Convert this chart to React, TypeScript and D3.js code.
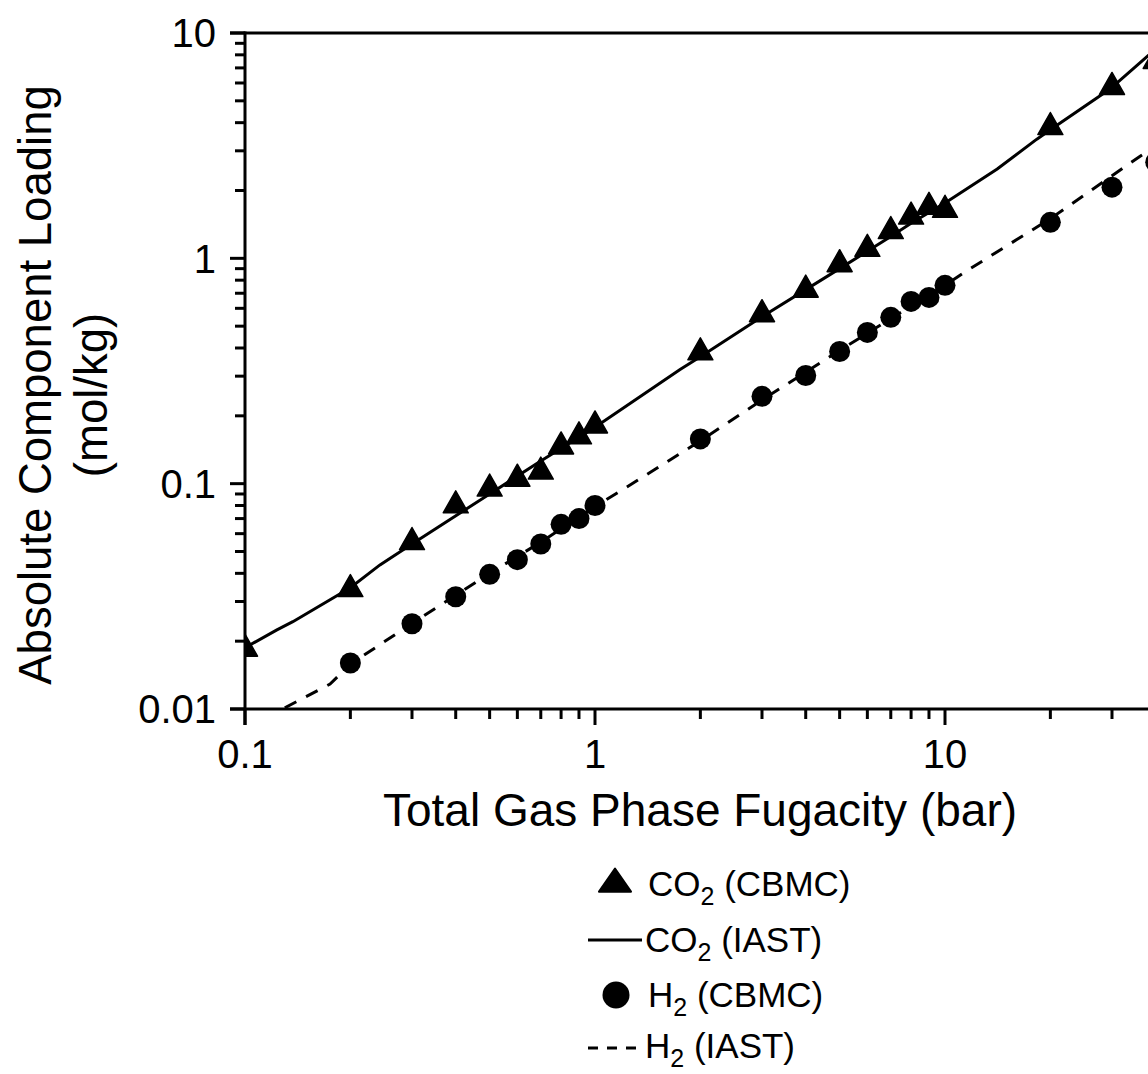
import React from "react";
import * as d3 from "d3";

// ---- Data ----
const cbmcPressureCO2 = [0.1, 0.2, 0.3, 0.4, 0.5, 0.6, 0.7, 0.8, 0.9, 1, 2, 3, 4, 5, 6, 7, 8, 9, 10, 20, 30, 40];
const co2CBMC = [0.0185, 0.034, 0.055, 0.08, 0.095, 0.105, 0.113, 0.146, 0.162, 0.181, 0.382, 0.564, 0.725, 0.94, 1.1, 1.32, 1.53, 1.69, 1.64, 3.82, 5.75, 7.5];

const cbmcPressureH2 = [0.2, 0.3, 0.4, 0.5, 0.6, 0.7, 0.8, 0.9, 1, 2, 3, 4, 5, 6, 7, 8, 9, 10, 20, 30, 40];
const h2CBMC = [0.016, 0.0239, 0.0315, 0.0396, 0.046, 0.054, 0.066, 0.07, 0.08, 0.158, 0.244, 0.302, 0.386, 0.469, 0.547, 0.644, 0.671, 0.759, 1.445, 2.07, 2.67];

const iastPressureCO2 = [0.1, 0.123, 0.137, 0.2, 0.243, 0.3, 0.5, 0.7, 1, 1.75, 2, 3, 5, 7, 8, 10, 14.1, 18.3, 20, 29.6, 40];
const co2IAST = [0.0187, 0.0224, 0.0244, 0.0345, 0.0436, 0.054, 0.09, 0.126, 0.178, 0.321, 0.366, 0.55, 0.9, 1.25, 1.43, 1.76, 2.49, 3.38, 3.72, 5.64, 8.5];

const iastPressureH2 = [0.1, 0.128, 0.175, 0.2, 0.3, 0.5, 0.7, 1, 1.436, 2, 3, 5, 7, 10, 11.4, 20, 24.8, 36.1, 40];
const h2IAST = [0.0077, 0.01, 0.0129, 0.0158, 0.024, 0.04, 0.055, 0.079, 0.112, 0.155, 0.235, 0.39, 0.54, 0.76, 0.87, 1.5, 1.89, 2.84, 3.15];

const xTickValues = [0.1, 1, 10];
const xTickLabels = ["0.1", "1", "10"];
const yTickValues = [0.01, 0.1, 1, 10];
const yTickLabels = ["0.01", "0.1", "1", "10"];

const xTitle = "Total Gas Phase Fugacity (bar)";
const yTitle1 = "Absolute Component Loading";
const yTitle2 = "(mol/kg)";

// ---- Layout ----
const W = 1148;
const H = 1074;
const left = 245;
const top = 33;
const bottom = 709;
const right = 1295; // x = 100 (outside the picture)
const FONT = "'Liberation Sans', Arial, Helvetica, sans-serif";

export default function App() {
  const x = d3.scaleLog().domain([0.1, 100]).range([left, right]);
  const y = d3.scaleLog().domain([0.01, 10]).range([bottom, top]);

  const line = d3
    .line<[number, number]>()
    .x((d) => x(d[0]))
    .y((d) => y(d[1]));

  const co2Line = line(iastPressureCO2.map((p, i) => [p, co2IAST[i]] as [number, number])) || "";
  const h2Line = line(iastPressureH2.map((p, i) => [p, h2IAST[i]] as [number, number])) || "";

  const minorX: number[] = [];
  const minorY: number[] = [];
  [0.1, 1, 10].forEach((dec) => {
    for (let k = 2; k <= 9; k++) minorX.push(dec * k);
  });
  [0.01, 0.1, 1].forEach((dec) => {
    for (let k = 2; k <= 9; k++) minorY.push(dec * k);
  });

  const tri = (cx: number, cy: number, w: number, h: number) =>
    `M${cx},${cy - (2 * h) / 3}L${cx + w / 2},${cy + h / 3}L${cx - w / 2},${cy + h / 3}Z`;

  return (
    <svg
      width={W}
      height={H}
      style={{ position: "absolute", left: 0, top: 0, background: "#fff" }}
      fontFamily={FONT}
    >
      <defs>
        <clipPath id="plotClip">
          <rect x={left} y={top} width={right - left} height={bottom - top} />
        </clipPath>
      </defs>

      {/* data */}
      <g clipPath="url(#plotClip)">
        <path d={co2Line} fill="none" stroke="#000" strokeWidth={3} />
        <path d={h2Line} fill="none" stroke="#000" strokeWidth={3} strokeDasharray="13,11" />
        {cbmcPressureCO2.map((p, i) => (
          <path key={"t" + i} d={tri(x(p), y(co2CBMC[i]), 25, 22)} fill="#000" stroke="#000" strokeWidth={1.5} strokeLinejoin="round" />
        ))}
        {cbmcPressureH2.map((p, i) => (
          <circle key={"c" + i} cx={x(p)} cy={y(h2CBMC[i])} r={10.5} fill="#000" />
        ))}
      </g>

      {/* frame */}
      <line x1={left - 15} x2={W} y1={top} y2={top} stroke="#000" strokeWidth={3} />
      <line x1={left} x2={left} y1={top - 1.5} y2={bottom + 16} stroke="#000" strokeWidth={3} />
      <line x1={left - 15} x2={W} y1={bottom} y2={bottom} stroke="#000" strokeWidth={3} />

      {/* y ticks */}
      {yTickValues.map((v, i) => (
        <g key={"yt" + i}>
          <line x1={left - 15} x2={left} y1={y(v)} y2={y(v)} stroke="#000" strokeWidth={3} />
          <text x={216} y={y(v)} dy="0.36em" textAnchor="end" fontSize={40}>
            {yTickLabels[i]}
          </text>
        </g>
      ))}
      {minorY.map((v, i) => (
        <line key={"ym" + i} x1={left - 10} x2={left} y1={y(v)} y2={y(v)} stroke="#000" strokeWidth={3} />
      ))}

      {/* x ticks */}
      {xTickValues.map((v, i) => (
        <g key={"xt" + i}>
          <line x1={x(v)} x2={x(v)} y1={bottom} y2={bottom + 16} stroke="#000" strokeWidth={3} />
          <text x={x(v)} y={768} textAnchor="middle" fontSize={40}>
            {xTickLabels[i]}
          </text>
        </g>
      ))}
      {minorX.map((v, i) => (
        <line key={"xm" + i} x1={x(v)} x2={x(v)} y1={bottom} y2={bottom + 10} stroke="#000" strokeWidth={3} />
      ))}

      {/* titles */}
      <text x={700} y={826} textAnchor="middle" fontSize={46}>
        {xTitle}
      </text>
      <text transform={`translate(51,385) rotate(-90)`} textAnchor="middle" fontSize={45.5}>
        {yTitle1}
      </text>
      <text transform={`translate(107,395) rotate(-90)`} textAnchor="middle" fontSize={45.5}>
        {yTitle2}
      </text>

      {/* legend */}
      <g fontSize={35}>
        <path d={tri(615, 884, 32, 23)} fill="#000" stroke="#000" strokeWidth={2} strokeLinejoin="round" />
        <text x={648} y={896}>
          CO<tspan fontSize={25} dy={9}>2</tspan>
          <tspan dy={-9}> (CBMC)</tspan>
        </text>

        <line x1={588} x2={642} y1={940} y2={940} stroke="#000" strokeWidth={3} />
        <text x={645} y={952}>
          CO<tspan fontSize={25} dy={9}>2</tspan>
          <tspan dy={-9}> (IAST)</tspan>
        </text>

        <circle cx={616} cy={995} r={13.5} fill="#000" />
        <text x={648} y={1007}>
          H<tspan fontSize={25} dy={9}>2</tspan>
          <tspan dy={-9}> (CBMC)</tspan>
        </text>

        <line x1={588} x2={640} y1={1048} y2={1048} stroke="#000" strokeWidth={3} strokeDasharray="10,9" />
        <text x={645} y={1058}>
          H<tspan fontSize={25} dy={9}>2</tspan>
          <tspan dy={-9}> (IAST)</tspan>
        </text>
      </g>
    </svg>
  );
}
